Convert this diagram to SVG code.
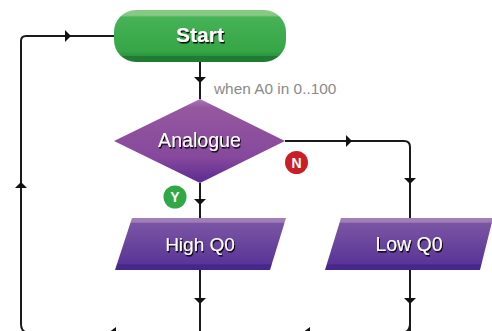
<svg xmlns="http://www.w3.org/2000/svg" width="492" height="331" viewBox="0 0 492 331">
<style>
.c{fill:none;stroke:#1a1a1a;stroke-width:2}
.a{fill:#111}
text{font-family:"Liberation Sans",Arial,sans-serif;text-anchor:middle}
.w{fill:#fff;filter:url(#sh)}
.l{font-size:15.400px;fill:#8a8a8a;text-anchor:start}
.b{font-size:14px;font-weight:bold;fill:#fff}
</style>
<defs>
<filter id="sh" x="-10%" y="-20%" width="120%" height="150%"><feDropShadow dx="1" dy="1.500" stdDeviation="0.300" flood-color="#000"/></filter>
<linearGradient id="gs" x1="0" y1="0" x2="0" y2="1"><stop offset="0" stop-color="#85c985"/><stop offset=".1" stop-color="#85c985"/><stop offset=".14" stop-color="#46b356"/><stop offset=".8" stop-color="#35a545"/><stop offset=".88" stop-color="#2a9440"/><stop offset=".89" stop-color="#1f7a33"/><stop offset="1" stop-color="#1f7a33"/></linearGradient>
<linearGradient id="gd" x1="0" y1="0" x2="0" y2="1"><stop offset="0" stop-color="#a878b8"/><stop offset=".1" stop-color="#95589f"/><stop offset=".7" stop-color="#86489c"/><stop offset="1" stop-color="#5a2b90"/></linearGradient>
<linearGradient id="gp" x1="0" y1="0" x2="0" y2="1"><stop offset="0" stop-color="#a07fb8"/><stop offset=".08" stop-color="#a07fb8"/><stop offset=".1" stop-color="#7a55a3"/><stop offset=".88" stop-color="#5a3597"/><stop offset=".9" stop-color="#46288a"/><stop offset="1" stop-color="#46288a"/></linearGradient>
<path id="ad" d="M-6-3H6L0 3Z"/>
<path id="ar" d="M-3-6V6L3 0Z"/>
<path id="au" d="M-6 3H6L0-3Z"/>
<path id="al" d="M4-6V6L-4 0Z"/>
</defs>
<g id="connectors">
<path class="c" d="M114 36H26Q21 36 21 41V324Q21 333 30 333H400Q410 333 410 324V147Q410 141 404 141H285"/>
<path class="c" d="M200 62V99M200 183V218M200 270V331M410 270V331"/>
<use href="#ar" class="a" x="68" y="36"/>
<use href="#au" class="a" x="21" y="185"/>
<use href="#ad" class="a" x="200" y="80"/>
<use href="#ad" class="a" x="200" y="202"/>
<use href="#ad" class="a" x="200" y="301"/>
<use href="#ar" class="a" x="349" y="141"/>
<use href="#ad" class="a" x="410" y="181"/>
<use href="#ad" class="a" x="410" y="301"/>
<use href="#al" class="a" x="112" y="333"/>
<use href="#al" class="a" x="306" y="333"/>
</g>
<g id="start">
<rect x="114" y="10" width="172" height="52" rx="22" fill="url(#gs)"/>
<text class="w" x="200" y="42" font-size="21" font-weight="bold">Start</text>
</g>
<text id="cond" class="l" x="214" y="94">when A0 in 0..100</text>
<g id="analogue">
<path d="M200 99L285 141 200 183 114 141Z" fill="url(#gd)"/>
<text class="w" x="199.500" y="147" font-size="19.600">Analogue</text>
</g>
<g id="badge-n">
<circle cx="296.500" cy="162.500" r="11.500" fill="#c91f26"/>
<text class="b" x="296.500" y="167.500">N</text>
</g>
<g id="badge-y">
<circle cx="175" cy="197" r="11.500" fill="#2fa845"/>
<text class="b" x="175" y="202">Y</text>
</g>
<g id="high">
<path d="M132 218H286L270 270H115Z" fill="url(#gp)"/>
<text class="w" x="200" y="251" font-size="19">High Q0</text>
</g>
<g id="low">
<path d="M341 218H492V222L480 270H325Z" fill="url(#gp)"/>
<text class="w" x="409" y="251" font-size="19.500">Low Q0</text>
</g>
</svg>
